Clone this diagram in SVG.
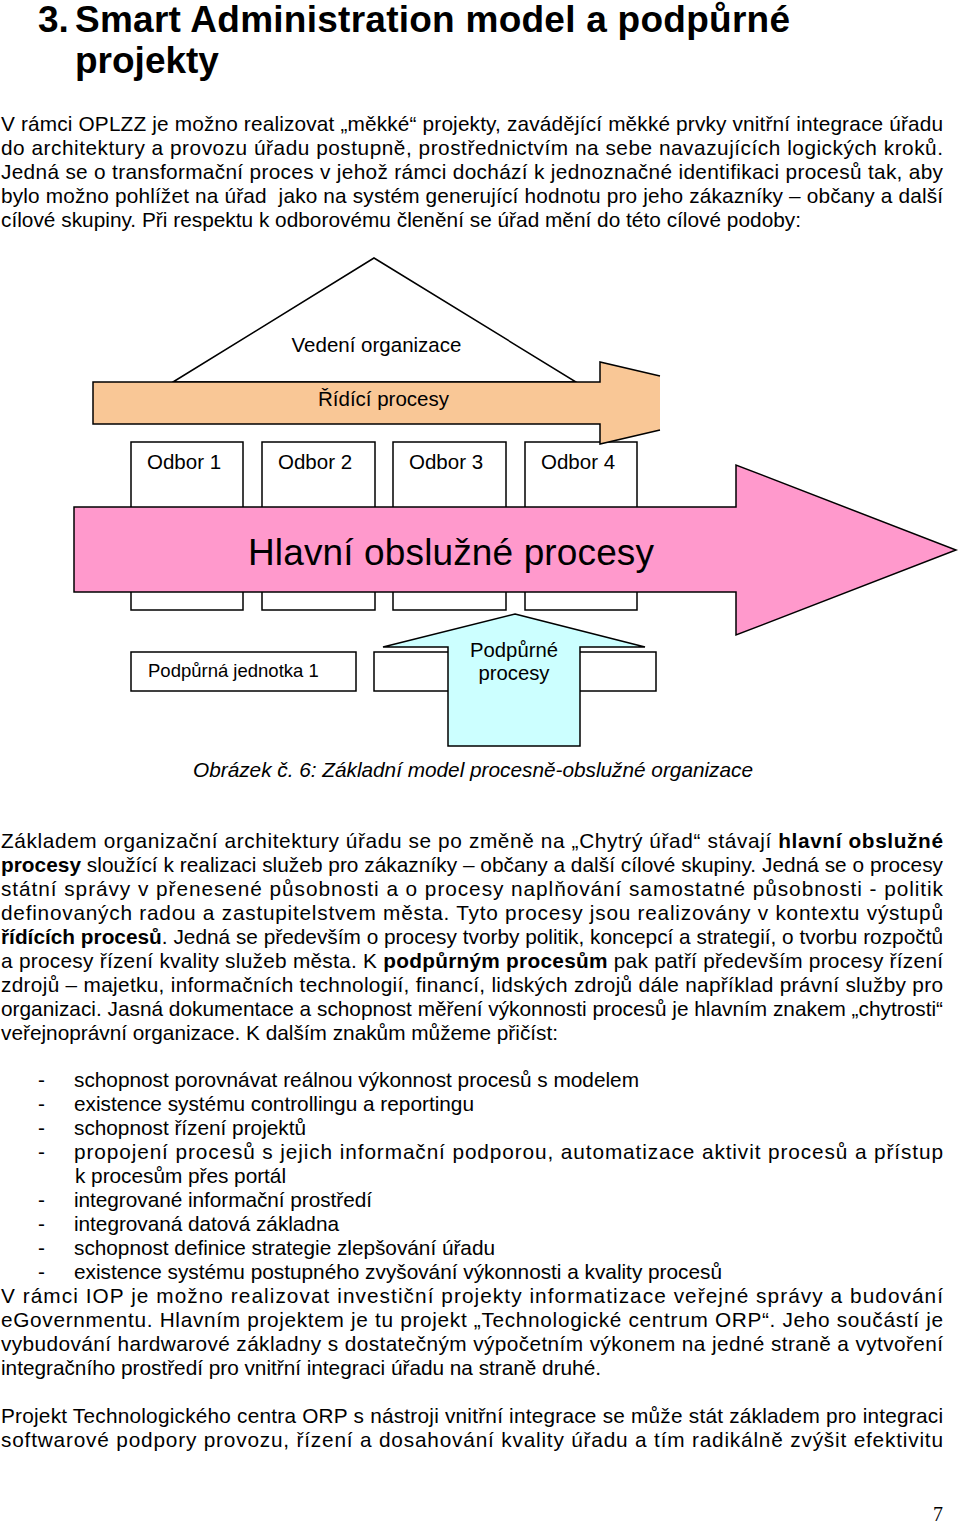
<svg xmlns="http://www.w3.org/2000/svg" width="960" height="1524" viewBox="0 0 960 1524">
<style>
text{font-family:"Liberation Sans",Arial,sans-serif;fill:#000}
.b{font-size:20.8px}
.bold{font-weight:bold}
.t{font-size:37px;font-weight:bold}
.d{font-size:20.5px}
.shape{stroke:#000;stroke-width:1.5;stroke-linejoin:miter}
.box{fill:#fff;stroke:#000;stroke-width:1.5}
</style>
<rect width="960" height="1524" fill="#fff"/>
<g id="title">
<text class="t" x="38" y="32">3.</text>
<text class="t" x="75" y="32" textLength="715" lengthAdjust="spacing">Smart Administration model a podpůrné</text>
<text class="t" x="75" y="73">projekty</text>
</g>
<g id="para1" class="b">
<text class="b" x="1" y="131" textLength="942" lengthAdjust="spacing">V rámci OPLZZ je možno realizovat „měkké“ projekty, zavádějící měkké prvky vnitřní integrace úřadu</text>
<text class="b" x="1" y="155" textLength="942" lengthAdjust="spacing">do architektury a provozu úřadu postupně, prostřednictvím na sebe navazujících logických kroků.</text>
<text class="b" x="1" y="179" textLength="942" lengthAdjust="spacing">Jedná se o transformační proces v jehož rámci dochází k jednoznačné identifikaci procesů tak, aby</text>
<text class="b" x="1" y="203" textLength="942" lengthAdjust="spacing">bylo možno pohlížet na úřad&#160; jako na systém generující hodnotu pro jeho zákazníky – občany a další</text>
<text class="b" x="1" y="227" textLength="800" lengthAdjust="spacing">cílové skupiny. Při respektu k odborovému členění se úřad mění do této cílové podoby:</text>
</g>
<g id="vedeni">
<polygon class="shape" points="173,382 374,258 576,382" fill="#fff"/>
<text class="d" x="376.5" y="352" text-anchor="middle">Vedení organizace</text>
</g>
<g id="odbor1"><rect class="box" x="131" y="442" width="112" height="168"/><text class="d" x="147" y="469">Odbor 1</text></g>
<g id="odbor2"><rect class="box" x="262" y="442" width="113" height="168"/><text class="d" x="278" y="469">Odbor 2</text></g>
<g id="odbor3"><rect class="box" x="393" y="442" width="113" height="168"/><text class="d" x="409" y="469">Odbor 3</text></g>
<g id="odbor4"><rect class="box" x="525" y="442" width="112" height="168"/><text class="d" x="541" y="469">Odbor 4</text></g>
<g id="ridici">
<polygon points="93,382 600,382 600,362 660,376 660,430 600,444 600,424 93,424" fill="#F9C796"/>
<polyline class="shape" fill="none" points="660,376 600,362 600,382 93,382 93,424 600,424 600,444 660,430"/>
<text class="d" x="383.5" y="406" text-anchor="middle">Řídící procesy</text>
</g>
<g id="hlavni">
<polygon class="shape" fill="#FF99CC" points="74,507 736,507 736,465 956,550 736,635 736,592 74,592"/>
<text x="451" y="565" text-anchor="middle" font-size="37" textLength="406" lengthAdjust="spacing">Hlavní obslužné procesy</text>
</g>
<g id="jednotka1"><rect class="box" x="131" y="652" width="225" height="39"/><text font-size="18.5" x="148" y="677">Podpůrná jednotka 1</text></g>
<g id="jednotka2"><rect class="box" x="374" y="652" width="282" height="39"/></g>
<g id="podpurne">
<polygon class="shape" fill="#CCFFFF" points="515,614 645,647 580,647 580,746 448,746 448,647 383,647"/>
<text font-size="20.3" x="514" y="657" text-anchor="middle">Podpůrné</text>
<text font-size="20.3" x="514" y="680" text-anchor="middle">procesy</text>
</g>
<g id="caption">
<text class="b" x="193" y="777" font-style="italic" textLength="560" lengthAdjust="spacing">Obrázek č. 6: Základní model procesně-obslužné organizace</text>
</g>
<g id="para2">
<text class="b" x="1" y="848" textLength="942" lengthAdjust="spacing">Základem organizační architektury úřadu se po změně na „Chytrý úřad“ stávají <tspan class="bold">hlavní obslužné</tspan></text>
<text class="b" x="1" y="872" textLength="942" lengthAdjust="spacing"><tspan class="bold">procesy</tspan> sloužící k realizaci služeb pro zákazníky – občany a další cílové skupiny. Jedná se o procesy</text>
<text class="b" x="1" y="896" textLength="942" lengthAdjust="spacing">státní správy v přenesené působnosti a o procesy naplňování samostatné působnosti - politik</text>
<text class="b" x="1" y="920" textLength="942" lengthAdjust="spacing">definovaných radou a zastupitelstvem města. Tyto procesy jsou realizovány v kontextu výstupů</text>
<text class="b" x="1" y="944" textLength="942" lengthAdjust="spacing"><tspan class="bold">řídících procesů</tspan>. Jedná se především o procesy tvorby politik, koncepcí a strategií, o tvorbu rozpočtů</text>
<text class="b" x="1" y="968" textLength="942" lengthAdjust="spacing">a procesy řízení kvality služeb města. K <tspan class="bold">podpůrným procesům</tspan> pak patří především procesy řízení</text>
<text class="b" x="1" y="992" textLength="942" lengthAdjust="spacing">zdrojů – majetku, informačních technologií, financí, lidských zdrojů dále například právní služby pro</text>
<text class="b" x="1" y="1016" textLength="942" lengthAdjust="spacing">organizaci. Jasná dokumentace a schopnost měření výkonnosti procesů je hlavním znakem „chytrosti“</text>
<text class="b" x="1" y="1040" textLength="557" lengthAdjust="spacing">veřejnoprávní organizace. K dalším znakům můžeme přičíst:</text>
</g>
<g id="list">
<text class="b" x="38" y="1087">-</text>
<text class="b" x="74" y="1087" textLength="565" lengthAdjust="spacing">schopnost porovnávat reálnou výkonnost procesů s modelem</text>
<text class="b" x="38" y="1111">-</text>
<text class="b" x="74" y="1111" textLength="400" lengthAdjust="spacing">existence systému controllingu a reportingu</text>
<text class="b" x="38" y="1135">-</text>
<text class="b" x="74" y="1135" textLength="232" lengthAdjust="spacing">schopnost řízení projektů</text>
<text class="b" x="38" y="1159">-</text>
<text class="b" x="74" y="1159" textLength="869" lengthAdjust="spacing">propojení procesů s jejich informační podporou, automatizace aktivit procesů a přístup</text>
<text class="b" x="75" y="1183" textLength="211" lengthAdjust="spacing">k procesům přes portál</text>
<text class="b" x="38" y="1207">-</text>
<text class="b" x="74" y="1207" textLength="298" lengthAdjust="spacing">integrované informační prostředí</text>
<text class="b" x="38" y="1231">-</text>
<text class="b" x="74" y="1231" textLength="265" lengthAdjust="spacing">integrovaná datová základna</text>
<text class="b" x="38" y="1255">-</text>
<text class="b" x="74" y="1255" textLength="421" lengthAdjust="spacing">schopnost definice strategie zlepšování úřadu</text>
<text class="b" x="38" y="1279">-</text>
<text class="b" x="74" y="1279" textLength="648" lengthAdjust="spacing">existence systému postupného zvyšování výkonnosti a kvality procesů</text>
</g>
<g id="para3">
<text class="b" x="1" y="1303" textLength="942" lengthAdjust="spacing">V rámci IOP je možno realizovat investiční projekty informatizace veřejné správy a budování</text>
<text class="b" x="1" y="1327" textLength="942" lengthAdjust="spacing">eGovernmentu. Hlavním projektem je tu projekt „Technologické centrum ORP“. Jeho součástí je</text>
<text class="b" x="1" y="1351" textLength="942" lengthAdjust="spacing">vybudování hardwarové základny s dostatečným výpočetním výkonem na jedné straně a vytvoření</text>
<text class="b" x="1" y="1375" textLength="600" lengthAdjust="spacing">integračního prostředí pro vnitřní integraci úřadu na straně druhé.</text>
</g>
<g id="para4">
<text class="b" x="1" y="1423" textLength="942" lengthAdjust="spacing">Projekt Technologického centra ORP s nástroji vnitřní integrace se může stát základem pro integraci</text>
<text class="b" x="1" y="1447" textLength="942" lengthAdjust="spacing">softwarové podpory provozu, řízení a dosahování kvality úřadu a tím radikálně zvýšit efektivitu</text>
</g>
<g id="pagenum">
<text x="943" y="1521" text-anchor="end" font-size="20" style="font-family:'Liberation Serif',serif">7</text>
</g>
</svg>
